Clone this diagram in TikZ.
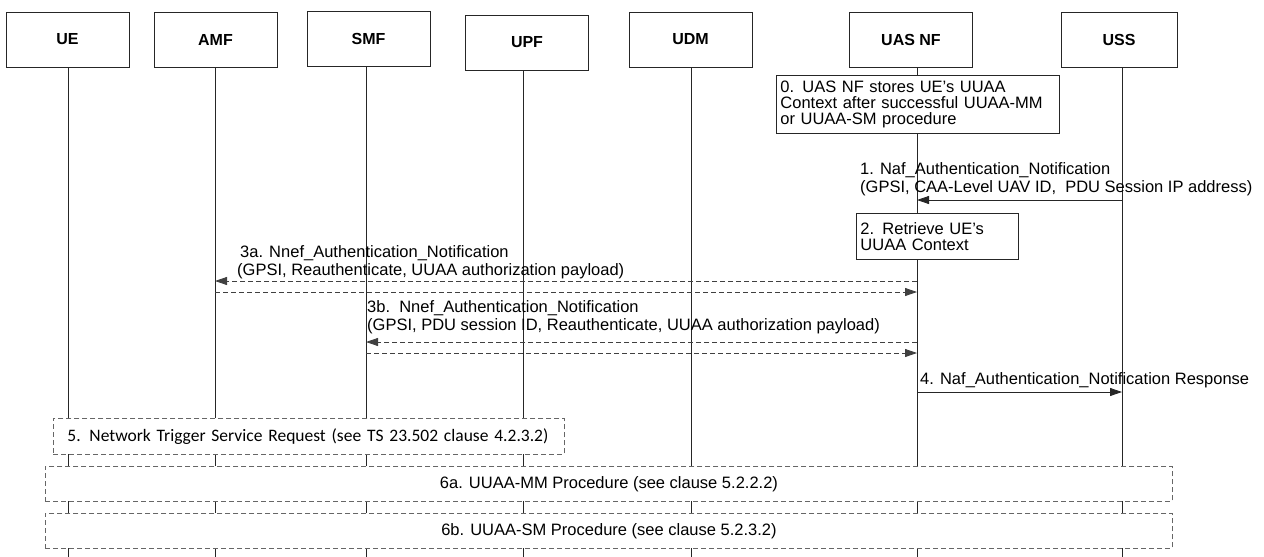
\documentclass[tikz,border=0pt]{standalone}
\usepackage{fontspec}
\setmainfont{Liberation Sans}
\newfontfamily\calibfont{Carlito}
\usetikzlibrary{arrows.meta}
\begin{document}
\begin{tikzpicture}[x=1pt,y=-1pt,
  font=\fontsize{16.5}{16}\selectfont,
  hdr/.style={draw=black!85, line width=0.9pt, minimum width=123pt, minimum height=55pt, inner sep=0pt, font=\fontsize{16}{16}\selectfont\bfseries},
  life/.style={draw=black!85, line width=0.8pt},
  note/.style={draw=black!85, fill=white, line width=0.9pt, align=left, anchor=north west, inner xsep=4pt, inner ysep=0pt},
  proc/.style={draw=black!60, fill=white, line width=0.9pt, dash pattern=on 5pt off 3pt, anchor=north west, inner ysep=0pt},
  msg/.style={draw=black!85, line width=0.8pt, -{Triangle[length=12pt,width=8pt]}},
  dmsg/.style={msg, draw=black!75, dash pattern=on 5pt off 3pt},
  lbl/.style={anchor=west, align=left, inner sep=0pt, font=\fontsize{16.5}{17.5}\selectfont}
]
\useasboundingbox (0,0) rectangle (1264,557);

% headers
\node[hdr] (ue)  at (67.5,39.5) {UE};
\node[hdr] (amf) at (215.5,39.5) {AMF};
\node[hdr] (smf) at (368.5,39) {SMF};
\node[hdr] (upf) at (527,42.5) {UPF};
\node[hdr] (udm) at (690.5,39.5) {UDM};
\node[hdr] (uas) at (911,39.5) {UAS NF};
\node[hdr, minimum width=116pt] (uss) at (1119,39.5) {USS};

% lifeline ends
\coordinate (ueB)  at (68,557);
\coordinate (amfB) at (215,557);
\coordinate (smfB) at (366,557);
\coordinate (upfB) at (523,557);
\coordinate (udmB) at (691,557);
\coordinate (uasB) at (917,557);
\coordinate (ussB) at (1122,557);

\draw[life] (ue.south -| ueB) -- (ueB);
\draw[life] (amf.south -| amfB) -- (amfB);
\draw[life] (smf.south -| smfB) -- (smfB);
\draw[life] (upf.south -| upfB) -- (upfB);
\draw[life] (udm.south -| udmB) -- (udmB);
\draw[life] (uas.south -| uasB) -- (uasB);
\draw[life] (uss.south -| ussB) -- (ussB);

% message rows
\coordinate (y1) at (0,200);
\coordinate (y3a) at (0,281);
\coordinate (y3ar) at (0,292);
\coordinate (y3b) at (0,342);
\coordinate (y3br) at (0,353);
\coordinate (y4) at (0,392);

% step 0
\node[note, text width=275pt, minimum height=58pt] (n0) at (776,75)
  {0. UAS NF stores UE's UUAA\\Context after successful UUAA-MM\\or UUAA-SM procedure};

% step 1
\node[lbl] (t1) at (860,179) {1. Naf\_Authentication\_Notification\\(GPSI, CAA-Level UAV ID,\ \ PDU Session IP address)};
\draw[msg] (ussB |- y1) -- (uasB |- y1);

% step 2
\node[note, text width=154pt, minimum height=46pt] (n2) at (856,213)
  {2. Retrieve UE's\\UUAA Context};

% step 3a
\node[lbl] (t3a) at (237,262) {\hspace{3pt}3a. Nnef\_Authentication\_Notification\\(GPSI, Reauthenticate, UUAA authorization payload)};
\draw[dmsg] (uasB |- y3a) -- (amfB |- y3a);
\draw[dmsg] (amfB |- y3ar) -- (uasB |- y3ar);

% step 3b
\node[lbl] (t3b) at (367,317) {3b.\ \ Nnef\_Authentication\_Notification\\(GPSI, PDU session ID, Reauthenticate, UUAA authorization payload)};
\draw[dmsg] (uasB |- y3b) -- (smfB |- y3b);
\draw[dmsg] (smfB |- y3br) -- (uasB |- y3br);

% step 4
\node[lbl] (t4) at (920,380) {4. Naf\_Authentication\_Notification Response};
\draw[msg] (uasB |- y4) -- (ussB |- y4);

% step 5
\node[proc, minimum width=511pt, minimum height=36pt, text width=483pt, inner xsep=14pt, align=left,
      font=\calibfont\fontsize{17.5}{18}\selectfont] (p5) at (53,418)
  {5. Network Trigger Service Request (see TS 23.502 clause 4.2.3.2)};

% step 6a / 6b
\node[proc, minimum width=1127pt, minimum height=35pt, inner xsep=0pt] (p6a) at (45,466)
  {6a. UUAA-MM Procedure (see clause 5.2.2.2)};
\node[proc, minimum width=1127pt, minimum height=35pt, inner xsep=0pt] (p6b) at (45,513)
  {6b. UUAA-SM Procedure (see clause 5.2.3.2)};
\end{tikzpicture}
\end{document}
